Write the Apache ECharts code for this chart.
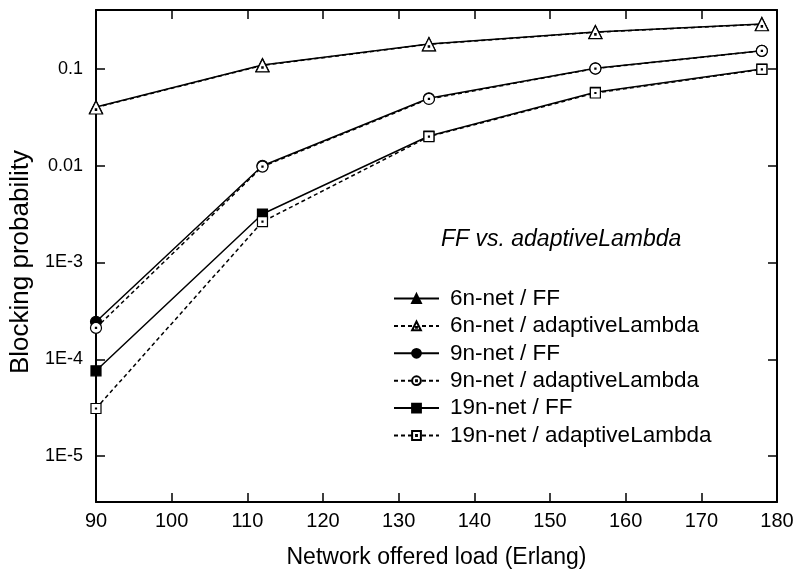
<!DOCTYPE html>
<html>
<head>
<meta charset="utf-8">
<script src="https://cdn.jsdelivr.net/npm/echarts@6/dist/echarts.min.js"></script>
<style>
html,body{margin:0;padding:0;background:#fff;}
#chart{width:793px;height:570px;}
</style>
</head>
<body>
<div id="chart"></div>
<script>
// ---- data ----
const loads = [90, 112, 134, 156, 178];
const net6FF = [0.0405, 0.110, 0.181, 0.241, 0.292];
const net6AL = [0.0400, 0.109, 0.180, 0.240, 0.290];
const net9FF = [2.44e-4, 0.0100, 0.0498, 0.1016, 0.154];
const net9AL = [2.11e-4, 0.0098, 0.0490, 0.1010, 0.154];
const net19FF = [7.6e-5, 3.17e-3, 0.0203, 0.0574, 0.100];
const net19AL = [3.1e-5, 2.64e-3, 0.0200, 0.0565, 0.099];
const seriesNames = ['6n-net / FF', '6n-net / adaptiveLambda', '9n-net / FF', '9n-net / adaptiveLambda', '19n-net / FF', '19n-net / adaptiveLambda'];
const xTitle = 'Network offered load (Erlang)';
const yTitle = 'Blocking probability';
const chartTitle = 'FF vs. adaptiveLambda';

const Y_MIN = 3.35e-6, Y_MAX = 0.407;
const FONT = '"Liberation Sans", Arial, sans-serif';

// open symbols with a small centre dot
const OPEN_TRI = 'path://M5,0 L10,9 L0,9 Z M4.5,5.5 L5.5,5.5 L5.5,6.5 L4.5,6.5 Z';
const OPEN_CIR = 'path://M5,0 A5,5 0 1,1 4.99,0 Z M4.5,4.5 L5.5,4.5 L5.5,5.5 L4.5,5.5 Z';
const OPEN_SQ = 'path://M0,0 L10,0 L10,10 L0,10 Z M4.5,4.5 L5.5,4.5 L5.5,5.5 L4.5,5.5 Z';

function pairs(ys) { return loads.map((x, i) => [x, ys[i]]); }
function yFmt(v) {
  if (v >= 0.01) return String(Number(v.toPrecision(3)));
  return '1E' + Math.round(Math.log10(v));
}

function mk(name, ys, symbol, size, filled, dashed) {
  return {
    name: name, type: 'line', data: pairs(ys),
    symbol: symbol, symbolSize: size, showAllSymbol: true,
    lineStyle: { color: '#000', width: 1.5, type: dashed ? [4, 3] : 'solid' },
    itemStyle: { color: filled ? '#000' : '#fff', borderColor: '#000', borderWidth: 1.2 },
    emphasis: { disabled: true },
    animation: false, z: filled ? 2 : 3
  };
}

const chart = echarts.init(document.getElementById('chart'), null, { renderer: 'canvas' });
chart.setOption({
  backgroundColor: '#fff',
  animation: false,
  title: {
    text: chartTitle, left: 441, top: 228, padding: 0,
    textStyle: { fontFamily: FONT, fontStyle: 'italic', fontWeight: 'normal', fontSize: 23, color: '#000' }
  },
  legend: {
    orient: 'vertical', left: 393, top: 287, padding: 0,
    itemWidth: 45, itemHeight: 11, itemGap: 4.4,
    data: seriesNames,
    textStyle: { fontFamily: FONT, fontSize: 22.5, lineHeight: 20, color: '#000', padding: [0, 0, 0, 6] }
  },
  grid: { left: 96, right: 16, top: 10, bottom: 68, containLabel: false, outerBoundsMode: 'none' },
  xAxis: [{
    type: 'value', min: 90, max: 180, interval: 10, position: 'bottom',
    name: xTitle, nameLocation: 'middle', nameGap: 44,
    nameTextStyle: { fontFamily: FONT, fontSize: 23, color: '#000' },
    axisLine: { lineStyle: { color: '#000', width: 2 } },
    axisTick: { inside: true, length: 9, lineStyle: { color: '#000', width: 1.5 } },
    axisLabel: { fontFamily: FONT, fontSize: 20, color: '#000', margin: 9 },
    splitLine: { show: false }
  }, {
    type: 'value', min: 90, max: 180, interval: 10, position: 'top',
    axisLine: { lineStyle: { color: '#000', width: 2 } },
    axisTick: { inside: true, length: 9, lineStyle: { color: '#000', width: 1.5 } },
    axisLabel: { show: false }, splitLine: { show: false }
  }],
  yAxis: [{
    type: 'log', logBase: 10, min: Y_MIN, max: Y_MAX, position: 'left',
    name: yTitle, nameLocation: 'middle', nameGap: 62, nameRotate: 90,
    nameTextStyle: { fontFamily: FONT, fontSize: 26, color: '#000', padding: [0, 12, 0, 0] },
    axisLine: { lineStyle: { color: '#000', width: 2 } },
    axisTick: { inside: true, length: 9, lineStyle: { color: '#000', width: 1.5 } },
    axisLabel: { fontFamily: FONT, fontSize: 18, color: '#000', margin: 13, formatter: yFmt, showMinLabel: false, showMaxLabel: false },
    splitLine: { show: false }, minorTick: { show: false }
  }, {
    type: 'log', logBase: 10, min: Y_MIN, max: Y_MAX, position: 'right',
    axisLine: { lineStyle: { color: '#000', width: 2 } },
    axisTick: { inside: true, length: 9, lineStyle: { color: '#000', width: 1.5 } },
    axisLabel: { show: false }, splitLine: { show: false }
  }],
  series: [
    mk(seriesNames[0], net6FF, 'triangle', 13, true, false),
    mk(seriesNames[1], net6AL, OPEN_TRI, 13, false, true),
    mk(seriesNames[2], net9FF, 'circle', 11, true, false),
    mk(seriesNames[3], net9AL, OPEN_CIR, 11, false, true),
    mk(seriesNames[4], net19FF, 'rect', 10, true, false),
    mk(seriesNames[5], net19AL, OPEN_SQ, 10, false, true)
  ]
});
</script>
</body>
</html>
